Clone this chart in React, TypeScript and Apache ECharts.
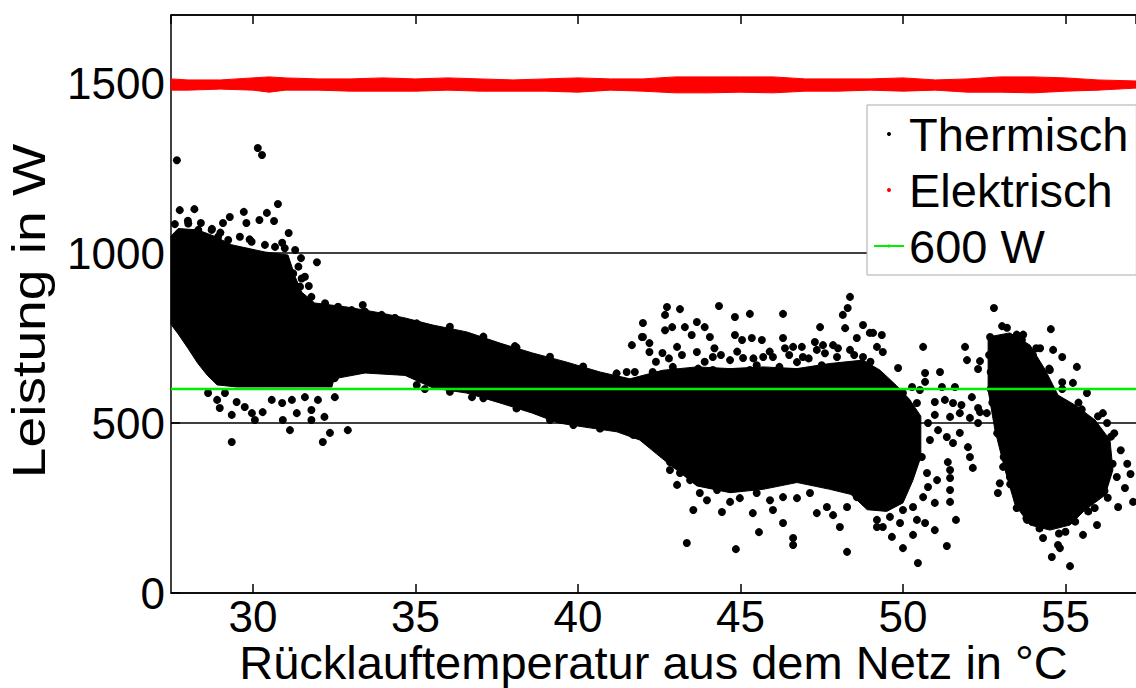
import React, { useEffect, useRef } from "react";
import * as echarts from "echarts";

const FONT = '"Liberation Sans", Arial, sans-serif';

const X_MIN = 27.48;
const X_MAX = 57.17;
const Y_MIN = 0;
const Y_MAX = 1700;
const Y_TICK = 500;
const THRESHOLD = 600;

const LEGEND_LABELS = ["Thermisch", "Elektrisch", "600 W"];

// Electric power band (upper / lower edge of the red point band)
const ELECTRIC_X = [27.48, 28, 29, 30, 30.5, 31, 32, 33, 34, 35, 36, 37, 38, 39, 40, 41, 42, 43, 44, 45, 46, 47, 48, 49, 50, 51, 52, 53, 54, 55, 56, 57.17];
const ELECTRIC_UPPER = [1512, 1509, 1509, 1515, 1518, 1515, 1512, 1512, 1515, 1512, 1515, 1512, 1509, 1512, 1515, 1512, 1512, 1518, 1518, 1518, 1518, 1512, 1512, 1512, 1515, 1509, 1512, 1518, 1518, 1515, 1509, 1506];
const ELECTRIC_LOWER = [1479, 1479, 1482, 1479, 1473, 1479, 1479, 1476, 1476, 1476, 1479, 1476, 1476, 1476, 1473, 1479, 1476, 1471, 1471, 1473, 1471, 1476, 1476, 1479, 1476, 1479, 1473, 1473, 1471, 1476, 1479, 1485];

// Dense core of the thermal point cloud (outline)
const THERMAL_CORE: number[][] = [
  [27.48, 1050], [27.7, 1072], [28.3, 1068], [28.8, 1050], [29.35, 1024], [30.37, 1003], [31.08, 994],
  [31.3, 930], [31.5, 885], [31.9, 853], [32.9, 841], [33.97, 823], [34.68, 809], [35.54, 788],
  [36.58, 768], [37.6, 735], [38.6, 706], [39.66, 679], [40.68, 650], [41.6, 630], [42.6, 655],
  [43.66, 665], [44.68, 660], [45.7, 665], [46.74, 660], [47.75, 675], [48.77, 685], [49.3, 655],
  [49.8, 610], [50.2, 570], [50.55, 520],
  [50.55, 400], [50.3, 330], [50.0, 265], [49.5, 240], [48.9, 245], [48.4, 290], [47.75, 305],
  [46.74, 325], [45.7, 305], [44.68, 295], [43.66, 315], [42.6, 395], [41.9, 450], [41.2, 474],
  [40.2, 488], [39.4, 500], [38.6, 529], [37.6, 559], [36.58, 588], [35.54, 603], [34.68, 640],
  [33.45, 647], [32.5, 630], [32.43, 606], [31.5, 606], [30.5, 606], [29.5, 606], [28.9, 612],
  [28.6, 640], [28.3, 676], [28.0, 720], [27.7, 762], [27.48, 790],
];

const THERMAL_EAST: number[][] = [
  [52.62, 753], [53.29, 765], [53.91, 729], [54.38, 656], [54.77, 582], [55.29, 553], [55.91, 509],
  [56.37, 450], [56.46, 362], [56.22, 288], [55.6, 244], [55.14, 200], [54.52, 185], [53.91, 200],
  [53.45, 259], [53.14, 362], [52.83, 479], [52.62, 597],
];

// Individual thermal points outside / on the rim of the dense core
const THERMAL_POINTS: number[][] = [
  [27.66, 1273], [30.15, 1309], [30.28, 1288], [27.75, 1126], [28.2, 1129], [30.77, 1144], [29.72, 1121],
  [29.29, 1106], [30.43, 1118], [30.2, 1097], [30.65, 1094], [31.1, 1059], [29.8, 1088], [29.08, 1088],
  [28.74, 1071], [28.4, 1088], [31.3, 1009], [31.97, 973], [31.48, 985], [31.72, 903], [33.38, 847],
  [34.37, 809], [31.4, 960], [31.6, 930], [27.6, 1085], [28.0, 1095], [29.0, 1060], [29.9, 1040], [30.9, 1030],
  [28.01, 1087], [28.32, 1068], [28.73, 1068], [28.93, 1048], [29.24, 1038], [29.6, 1048], [29.96, 1033],
  [30.37, 1024], [30.68, 1018], [30.98, 1014], [31.24, 940], [31.5, 925], [31.45, 901], [31.8, 871],
  [32.22, 852], [32.62, 842], [33.04, 832], [33.45, 827], [33.96, 818], [34.37, 808],
  [35.04, 793], [36.06, 783], [37.09, 754], [38.11, 722], [39.14, 695], [40.16, 666], [41.19, 646],
  [35.04, 612], [36.06, 592], [37.09, 573], [38.11, 543], [39.14, 509], [39.86, 494], [40.68, 484], [41.7, 465],
  [28.62, 588], [28.9, 568], [28.98, 544], [29.35, 524], [29.35, 444], [29.75, 547], [30.06, 509],
  [29.97, 529], [30.3, 532], [30.58, 568], [30.92, 509], [31.14, 479], [31.35, 529], [31.8, 538],
  [32.0, 568], [32.2, 518], [32.15, 444], [32.37, 471], [32.52, 576], [32.92, 479], [32.52, 632],
  [31.6, 576], [29.5, 562], [29.14, 588], [30.9, 559], [31.2, 568], [31.8, 509],
  [35.29, 600], [36.74, 576], [38.06, 726], [42.0, 794], [42.0, 753], [41.66, 729], [41.75, 650], [41.5, 650],
  [42.74, 841], [42.68, 818], [43.14, 835], [44.34, 844], [44.83, 812], [45.29, 821], [46.31, 821],
  [47.45, 782], [48.37, 871], [48.3, 838], [48.15, 818], [48.77, 788], [41.97, 753], [42.68, 773],
  [42.9, 782], [43.29, 782], [43.66, 797], [43.9, 782], [43.5, 759], [44.06, 753], [44.2, 720],
  [44.83, 759], [45.05, 744], [45.35, 750], [45.66, 744], [46.31, 750], [46.37, 720], [46.62, 724],
  [46.89, 724], [47.29, 738], [47.54, 729], [47.85, 729], [48.22, 779], [48.58, 750], [48.98, 765],
  [42.2, 735], [42.2, 709], [42.6, 706], [43.05, 724], [43.66, 709], [44.15, 694], [44.68, 685],
  [45.08, 691], [45.7, 694], [46.0, 694], [46.74, 679], [46.92, 694], [47.35, 715], [47.97, 694],
  [48.37, 715], [48.77, 694], [49.2, 724], [42.92, 665], [44.15, 656], [45.29, 656], [46.2, 665],
  [47.23, 656], [48.15, 656], [43.35, 626], [44.58, 626], [45.7, 626], [46.92, 626], [47.75, 632],
  [48.77, 635], [42.4, 680], [42.8, 690], [43.2, 700], [43.9, 680], [44.4, 700], [44.9, 710],
  [45.4, 690], [45.9, 710], [46.5, 700], [47.1, 690], [47.6, 705], [48.0, 720], [48.5, 700], [49.0, 680],
  [42.3, 650], [43.0, 650], [43.7, 660], [44.9, 650], [45.5, 670], [46.5, 650], [47.5, 670], [48.5, 665],
  [49.1, 650],
  [42.6, 415], [42.83, 385], [42.83, 362], [43.05, 318], [43.55, 244], [43.35, 147], [44.43, 238],
  [44.86, 129], [45.38, 235], [45.57, 179], [46.0, 244], [46.31, 206], [46.62, 162], [46.62, 141],
  [47.35, 235], [48.06, 194], [48.28, 121], [47.85, 229], [43.97, 273], [44.68, 268], [44.98, 279],
  [45.91, 273], [46.31, 282], [46.74, 279], [47.14, 294], [47.66, 253], [48.28, 253], [48.58, 282],
  [48.98, 265], [49.2, 194], [43.75, 294], [44.28, 303], [45.5, 294], [43.14, 353], [43.45, 332],
  [49.35, 759], [49.08, 765], [49.38, 709], [49.85, 662], [50.62, 724], [50.68, 647], [50.68, 621],
  [51.14, 650], [50.28, 606], [51.91, 724], [51.97, 685], [52.37, 682], [52.31, 659], [51.6, 606],
  [52.12, 576], [52.31, 544], [50.98, 562], [51.29, 568], [51.54, 559], [51.8, 553], [50.98, 524],
  [51.45, 518], [51.75, 529], [52.06, 515], [52.31, 500], [52.58, 529], [51.08, 479], [51.35, 459],
  [51.75, 471], [51.54, 441], [52.0, 429], [52.06, 400], [51.38, 385], [51.45, 362], [52.15, 368],
  [51.45, 338], [51.45, 303], [51.05, 332], [51.45, 268], [50.98, 265], [51.63, 215], [51.35, 138],
  [50.46, 88], [50.0, 132], [50.98, 185], [50.68, 206], [50.31, 171], [49.66, 165], [49.38, 194],
  [49.91, 206], [50.43, 215], [50.31, 253], [50.0, 244], [49.6, 224], [49.2, 215], [50.62, 282],
  [50.77, 312], [50.74, 353], [50.58, 400], [50.83, 450], [50.77, 500], [50.43, 559], [50.52, 597],
  [50.0, 588], [51.2, 606],
  [52.8, 838], [53.05, 785], [54.55, 776], [52.68, 753], [53.66, 744], [54.22, 720], [54.62, 715],
  [54.9, 694], [55.35, 665], [54.52, 656], [55.23, 618], [55.66, 588], [56.15, 529], [56.28, 500],
  [56.58, 341], [56.83, 309], [57.08, 268], [56.62, 253], [55.97, 200], [55.54, 171], [55.14, 79],
  [54.58, 106], [54.83, 132], [54.77, 141], [54.31, 162], [53.82, 215], [52.92, 294], [52.98, 323],
  [53.08, 371], [53.29, 341], [52.37, 532], [55.8, 480], [56.0, 420], [56.5, 470], [56.9, 380],
  [56.3, 280], [55.9, 250], [55.0, 180], [53.6, 300], [53.2, 420], [52.9, 520], [52.7, 600],
  [53.3, 700], [53.5, 760], [54.0, 700], [54.9, 620], [55.5, 540], [56.7, 420], [57.0, 350],
  [52.65, 700], [52.7, 650], [52.75, 560], [52.9, 470], [53.1, 400], [53.3, 320], [53.5, 250],
  [53.8, 220], [54.2, 190], [54.8, 175], [55.3, 210], [55.7, 240], [56.2, 300], [56.45, 380],
  [56.4, 460], [56.0, 520], [55.4, 560], [54.9, 600], [54.5, 660], [54.1, 720], [53.7, 760], [53.2, 780],
];

const THERMAL_POLYGONS = [THERMAL_CORE, THERMAL_EAST];
const ELECTRIC_POLYGON = [
  ...ELECTRIC_X.map((x, i) => [x, ELECTRIC_UPPER[i]]),
  ...ELECTRIC_X.map((x, i) => [x, ELECTRIC_LOWER[i]]).reverse(),
];

export default function App() {
  const ref = useRef<HTMLDivElement>(null);

  useEffect(() => {
    if (!ref.current) return;
    const chart = echarts.init(ref.current, null, { renderer: "svg" });

    const polygonRenderer = (polys: number[][][], fill: string) => (params: any, api: any) => {
      const poly = polys[params.dataIndex];
      return {
        type: "polygon",
        shape: { points: poly.map((p) => api.coord(p)) },
        style: { fill, stroke: fill, lineWidth: 1 },
      };
    };

    const axisLineStyle = { color: "#000", width: 1.5 };

    chart.setOption({
      animation: false,
      backgroundColor: "#fff",
      textStyle: { fontFamily: FONT },
      grid: { left: 171, top: 15, right: 0, bottom: 95, containLabel: false, outerBoundsMode: "none" },
      legend: {
        orient: "vertical",
        left: 867,
        top: 105,
        backgroundColor: "#fff",
        borderColor: "#aaa",
        borderWidth: 1,
        borderRadius: 0,
        padding: [3, 8, 3, 6],
        itemGap: 4,
        itemWidth: 30,
        itemHeight: 4,
        selectedMode: false,
        textStyle: { fontSize: 47, lineHeight: 52, color: "#000", fontFamily: FONT },
        data: [
          { name: LEGEND_LABELS[0], icon: "circle", itemStyle: { color: "#000" } },
          { name: LEGEND_LABELS[1], icon: "circle", itemStyle: { color: "#ff0000" } },
          { name: LEGEND_LABELS[2] },
        ],
      },
      xAxis: [
        {
          type: "value",
          min: X_MIN,
          max: X_MAX,
          position: "bottom",
          name: "Rücklauftemperatur aus dem Netz in °C",
          nameLocation: "middle",
          nameGap: 49,
          nameMoveOverlap: false,
          nameTextStyle: { fontSize: 47, lineHeight: 40, color: "#000", fontFamily: FONT },
          axisLine: { show: true, onZero: false, lineStyle: axisLineStyle },
          axisTick: { show: true, inside: true, length: 9, lineStyle: axisLineStyle },
          axisLabel: {
            fontSize: 44,
            lineHeight: 34,
            color: "#000",
            margin: 6,
            fontFamily: FONT,
            showMinLabel: false,
            showMaxLabel: false,
            formatter: (v: number) => (Math.abs(v % 5) < 1e-6 ? String(v) : ""),
          },
          splitLine: { show: false },
        },
        {
          type: "value",
          min: X_MIN,
          max: X_MAX,
          position: "top",
          axisLine: { show: true, onZero: false, lineStyle: axisLineStyle },
          axisTick: { show: true, inside: true, length: 9, lineStyle: axisLineStyle },
          axisLabel: { show: false },
          splitLine: { show: false },
        },
      ],
      yAxis: {
        type: "value",
        min: Y_MIN,
        max: Y_MAX,
        interval: Y_TICK,
        axisLine: { show: true, lineStyle: axisLineStyle },
        axisTick: { show: true, inside: true, length: 9, lineStyle: axisLineStyle },
        axisLabel: {
          fontSize: 44,
          color: "#000",
          margin: 6,
          fontFamily: FONT,
          showMaxLabel: false,
          formatter: (v: number) => (v % Y_TICK === 0 ? String(v) : ""),
        },
        splitLine: { show: true, lineStyle: { color: "#000", width: 1.5 } },
      },
      graphic: [
        {
          type: "text",
          x: 29,
          y: 311,
          rotation: Math.PI / 2,
          scaleX: 1.2,
          style: {
            text: "Leistung in W",
            font: `46px ${FONT}`,
            fill: "#000",
            align: "center",
            verticalAlign: "middle",
          },
        },
      ],
      series: [
        {
          type: "custom",
          name: LEGEND_LABELS[1],
          renderItem: polygonRenderer([ELECTRIC_POLYGON], "#ff0000"),
          data: [ELECTRIC_POLYGON[0]],
          encode: { x: 0, y: 1 },
          silent: true,
          z: 2,
        },
        {
          type: "custom",
          name: "thermal-core",
          renderItem: polygonRenderer(THERMAL_POLYGONS, "#000"),
          data: THERMAL_POLYGONS.map((p) => p[0]),
          encode: { x: 0, y: 1 },
          silent: true,
          z: 3,
        },
        {
          type: "scatter",
          name: LEGEND_LABELS[0],
          data: THERMAL_POINTS,
          symbol: "circle",
          symbolSize: 8,
          itemStyle: { color: "#000", opacity: 1 },
          silent: true,
          z: 4,
        },
        {
          type: "line",
          name: LEGEND_LABELS[2],
          data: [
            [X_MIN, THRESHOLD],
            [X_MAX, THRESHOLD],
          ],
          symbol: "none",
          lineStyle: { color: "#00ee00", width: 2.5 },
          itemStyle: { color: "#00ee00" },
          silent: true,
          z: 5,
        },
      ],
    });

    return () => chart.dispose();
  }, []);

  return (
    <div
      ref={ref}
      style={{ position: "fixed", left: 0, top: 0, width: 1136, height: 688, background: "#fff" }}
    />
  );
}
